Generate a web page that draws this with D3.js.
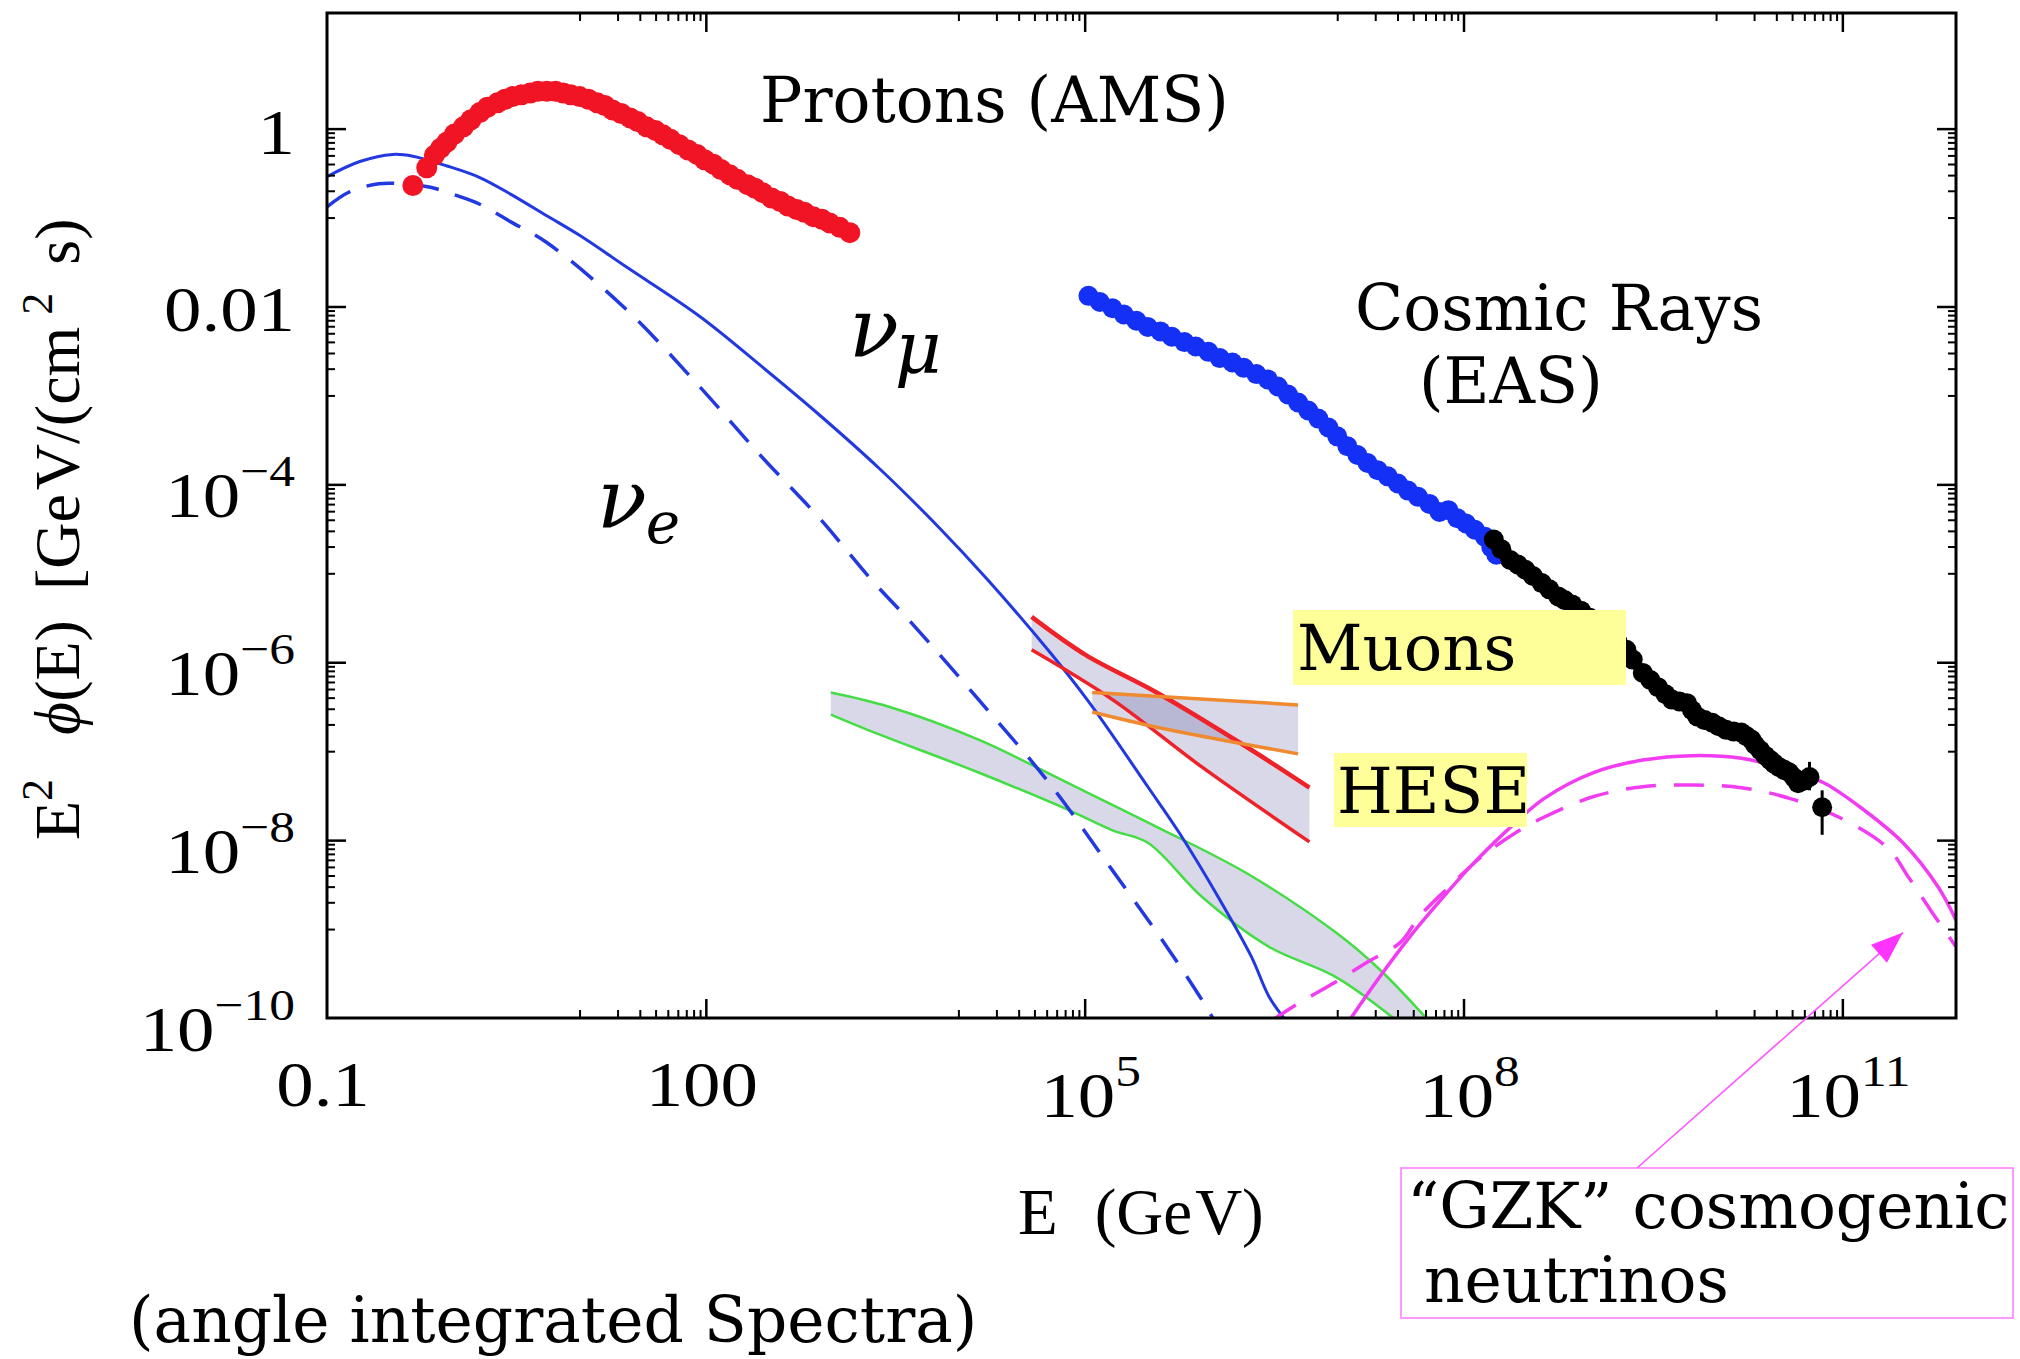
<!DOCTYPE html>
<html>
<head>
<meta charset="utf-8">
<script src="https://cdn.jsdelivr.net/npm/d3@7"></script>
<style>
  body { margin: 0; background: #fff; }
  svg { display: block; }
</style>
</head>
<body>
<div id="chart"></div>
<script>
// all series are [log10(E / GeV), log10(E^2 phi / GeV cm^-2 s^-1)]

// AMS protons
var protonsAMS = [
  [-0.32,-0.64],[-0.21,-0.44],[-0.15,-0.30],[-0.10,-0.22],[-0.05,-0.15],[0.01,-0.06],[0.08,0.02],
  [0.14,0.10],[0.21,0.18],[0.27,0.24],[0.35,0.29],[0.41,0.33],[0.47,0.36],[0.54,0.38],[0.61,0.40],
  [0.67,0.42],[0.74,0.42],[0.81,0.42],[0.87,0.40],[0.93,0.38],[1.00,0.36],[1.07,0.33],[1.14,0.29],
  [1.20,0.26],[1.26,0.21],[1.33,0.17],[1.40,0.12],[1.46,0.08],[1.53,0.02],[1.60,-0.02],[1.66,-0.07],
  [1.72,-0.12],[1.79,-0.18],[1.86,-0.24],[1.93,-0.29],[1.99,-0.35],[2.06,-0.40],[2.12,-0.46],
  [2.19,-0.52],[2.25,-0.57],[2.33,-0.63],[2.39,-0.67],[2.45,-0.72],[2.52,-0.78],[2.59,-0.82],
  [2.65,-0.87],[2.72,-0.91],[2.78,-0.94],[2.85,-0.99],[2.92,-1.02],[2.98,-1.06],[3.06,-1.11],[3.14,-1.17]
];

// air shower cosmic rays (blue part)
var cosmicRaysEAS = [
  [5.03,-1.88],[5.12,-1.95],[5.22,-2.02],[5.31,-2.09],[5.41,-2.16],[5.50,-2.23],[5.60,-2.28],
  [5.69,-2.34],[5.79,-2.40],[5.88,-2.45],[5.98,-2.51],[6.07,-2.58],[6.17,-2.63],[6.26,-2.69],
  [6.36,-2.76],[6.45,-2.82],[6.53,-2.90],[6.61,-2.99],[6.69,-3.08],[6.77,-3.17],[6.85,-3.26],
  [6.93,-3.36],[7.00,-3.46],[7.08,-3.57],[7.16,-3.67],[7.24,-3.76],[7.32,-3.84],[7.40,-3.91],
  [7.48,-3.99],[7.56,-4.07],[7.64,-4.14],[7.73,-4.22],[7.81,-4.31],[7.88,-4.29],[7.95,-4.38],
  [8.02,-4.44],[8.09,-4.51],[8.17,-4.59],[8.22,-4.71],[8.26,-4.79]
];

// highest energy cosmic rays (black part)
var cosmicRaysUHE = [
  [8.24,-4.62],[8.30,-4.73],[8.37,-4.85],[8.43,-4.90],[8.49,-4.96],[8.55,-5.03],[8.62,-5.11],
  [8.68,-5.18],[8.75,-5.26],[8.80,-5.30],[8.86,-5.35],[8.93,-5.42],[9.00,-5.50],[9.06,-5.57],
  [9.12,-5.64],[9.17,-5.70],[9.22,-5.77],[9.29,-5.86],[9.34,-5.97],[9.42,-6.12],[9.48,-6.20],
  [9.54,-6.28],[9.60,-6.36],[9.65,-6.42],[9.71,-6.44],[9.77,-6.46],[9.81,-6.54],[9.85,-6.61],
  [9.91,-6.65],[9.97,-6.68],[10.02,-6.72],[10.08,-6.76],[10.14,-6.78],[10.20,-6.79],[10.24,-6.83],
  [10.28,-6.87],[10.31,-6.93],[10.35,-6.99],[10.39,-7.05],[10.43,-7.10],[10.46,-7.14],[10.50,-7.18],
  [10.54,-7.21],[10.58,-7.24],[10.62,-7.30],[10.65,-7.36],[10.70,-7.33],[10.74,-7.29],[10.84,-7.63]
];
// [log10 E, upper, lower]
var uheErrors = [[10.74,-7.12,-7.44],[10.84,-7.44,-7.94]];

// atmospheric neutrinos
var numuFlux = [
  [-1.00,-0.54],[-0.74,-0.37],[-0.48,-0.29],[-0.32,-0.31],[-0.05,-0.42],[0.21,-0.55],[0.47,-0.75],
  [0.74,-0.98],[1.00,-1.20],[1.375,-1.56],[1.95,-2.11],[2.43,-2.66],[2.90,-3.22],[3.38,-3.83],
  [3.85,-4.49],[4.23,-5.07],[4.72,-5.88],[5.04,-6.46],[5.50,-7.40],[5.75,-7.92],[6.07,-8.67],
  [6.32,-9.31],[6.46,-9.76],[6.60,-10.04]
];
var nueFlux = [
  [-1.00,-0.88],[-0.82,-0.71],[-0.59,-0.62],[-0.40,-0.62],[-0.18,-0.66],[0.00,-0.74],[0.21,-0.85],
  [0.47,-1.06],[0.74,-1.28],[1.36,-2.02],[1.95,-2.90],[2.43,-3.67],[2.90,-4.38],[3.31,-5.07],
  [3.63,-5.56],[4.16,-6.42],[4.72,-7.36],[5.22,-8.34],[5.67,-9.24],[5.93,-9.80],[6.03,-10.04]
];

// prompt band (green)
var promptUpper = [[2.99,-6.34],[3.45,-6.50],[4.16,-6.87],[4.87,-7.36],[5.57,-7.85],[6.28,-8.37],[6.99,-9.04],[7.34,-9.46],[7.73,-10.04]];
var promptLower = [[2.99,-6.59],[3.28,-6.76],[4.16,-7.24],[4.87,-7.66],[5.22,-7.89],[5.50,-8.03],[5.93,-8.64],[6.46,-9.20],[6.99,-9.54],[7.48,-10.04]];

// IceCube astrophysical fits
var heseUpper = [[4.58,-5.49],[5.01,-5.92],[5.57,-6.34],[6.28,-6.95],[6.78,-7.41]];
var heseLower = [[4.58,-5.86],[5.22,-6.42],[5.93,-7.18],[6.78,-8.02]];
var muonUpper = [[5.06,-6.34],[6.69,-6.48]];
var muonLower = [[5.06,-6.56],[5.57,-6.73],[6.69,-7.03]];

// cosmogenic
var gzkSolid = [
  [7.09,-10.04],[7.32,-9.57],[7.59,-9.06],[7.87,-8.59],[8.06,-8.29],[8.33,-7.91],[8.64,-7.53],
  [9.03,-7.24],[9.42,-7.10],[9.81,-7.05],[10.20,-7.08],[10.58,-7.21],[10.86,-7.36],[11.17,-7.66],
  [11.48,-8.03],[11.76,-8.53],[11.90,-8.90]
];
var gzkDashed = [
  [6.47,-10.04],[6.70,-9.83],[6.97,-9.61],[7.24,-9.37],[7.50,-9.15],[7.65,-8.86],[7.86,-8.56],
  [8.14,-8.19],[8.41,-7.92],[8.64,-7.74],[9.03,-7.51],[9.42,-7.40],[9.81,-7.38],[10.20,-7.41],
  [10.58,-7.53],[10.97,-7.74],[11.36,-8.09],[11.53,-8.43],[11.71,-8.81],[11.90,-9.20]
];

// axis ticks
var xMajorTicks = [0.1, 100, 1e5, 1e8, 1e11];
var xTickLabels = [["0.1", null], ["100", null], ["10", "5"], ["10", "8"], ["10", "11"]];
var yMajorTicks = [1, 1e-2, 1e-4, 1e-6, 1e-8, 1e-10];
var yTickLabels = [["1", null], ["0.01", null], ["10", "\u22124"], ["10", "\u22126"], ["10", "\u22128"], ["10", "\u221210"]];

var width = 2020, height = 1359;
var plotL = 327, plotR = 1956, plotT = 13, plotB = 1018;

var svg = d3.select("#chart").append("svg")
  .attr("width", width)
  .attr("height", height);

var x = d3.scaleLog().domain([0.1, Math.pow(10, 11.9)]).range([plotL, plotR]);
var y = d3.scaleLog().domain([1e-10, Math.pow(10, 1.3)]).range([plotB, plotT]);

function px(d) { return x(Math.pow(10, d[0])); }
function py(d) { return y(Math.pow(10, d[1])); }

svg.append("clipPath").attr("id", "plotclip")
  .append("rect")
  .attr("x", plotL).attr("y", plotT)
  .attr("width", plotR - plotL).attr("height", plotB - plotT);

var plot = svg.append("g").attr("clip-path", "url(#plotclip)");

var line = d3.line().x(px).y(py).curve(d3.curveCatmullRom);

function bandPath(upper, lower) {
  var lo = lower.slice().reverse();
  return line(upper) + "L" + line(lo).slice(1) + "Z";
}

// shaded bands
[[promptUpper, promptLower], [heseUpper, heseLower], [muonUpper, muonLower]].forEach(function (b) {
  plot.append("path")
    .attr("d", bandPath(b[0], b[1]))
    .attr("fill", "#3c3c8c")
    .attr("fill-opacity", 0.2)
    .attr("stroke", "none");
});

function drawLine(data, color, w, dash) {
  plot.append("path")
    .datum(data)
    .attr("d", line)
    .attr("fill", "none")
    .attr("stroke", color)
    .attr("stroke-width", w)
    .attr("stroke-dasharray", dash || null);
}

drawLine(promptUpper, "#44dd44", 2.5);
drawLine(promptLower, "#44dd44", 2.5);
drawLine(nueFlux, "#2238e0", 3.5, "28,17");
drawLine(numuFlux, "#2238e0", 3);
drawLine(heseUpper, "#ee2228", 4.5);
drawLine(heseLower, "#ee2228", 3.5);
drawLine(muonUpper, "#f08a30", 3.5);
drawLine(muonLower, "#f08a30", 3.5);
drawLine(gzkDashed, "#f23cf2", 3.5, "30,18");
drawLine(gzkSolid, "#f23cf2", 3.5);

function drawDots(data, color, r) {
  plot.append("g").selectAll("circle")
    .data(data)
    .enter().append("circle")
    .attr("cx", px)
    .attr("cy", py)
    .attr("r", r)
    .attr("fill", color);
}

drawDots(protonsAMS, "#f01424", 10.5);
drawDots(cosmicRaysEAS, "#1530f5", 10);
drawDots(cosmicRaysUHE, "#000", 10);

plot.append("g").selectAll("line")
  .data(uheErrors)
  .enter().append("line")
  .attr("x1", px).attr("x2", px)
  .attr("y1", function (d) { return y(Math.pow(10, d[1])); })
  .attr("y2", function (d) { return y(Math.pow(10, d[2])); })
  .attr("stroke", "#000")
  .attr("stroke-width", 3);

// ticks on all four sides, pointing inward
var xMinor = [], yMinor = [];
xMajorTicks.forEach(function (v) { for (var k = 1; k <= 9; k++) { var t = k * v / 10; if (t > 0.1) xMinor.push(t); } });
yMajorTicks.forEach(function (v) { for (var k = 1; k <= 9; k++) { var t = k * v / 10; if (t > 1e-10) yMinor.push(t); } });

function tickLayer(axis, tx, ty, vals, size, sw) {
  var g = svg.append("g")
    .attr("transform", "translate(" + tx + "," + ty + ")")
    .call(axis.tickValues(vals).tickSize(-size).tickFormat(""));
  g.select(".domain").remove();
  g.selectAll(".tick line").attr("stroke", "#000").attr("stroke-width", sw);
}
tickLayer(d3.axisBottom(x), 0, plotB, xMajorTicks.filter(function (v) { return v > 0.1; }), 19, 2.5);
tickLayer(d3.axisBottom(x), 0, plotB, xMinor, 8, 2);
tickLayer(d3.axisTop(x), 0, plotT, xMajorTicks.filter(function (v) { return v > 0.1; }), 19, 2.5);
tickLayer(d3.axisTop(x), 0, plotT, xMinor, 8, 2);
tickLayer(d3.axisLeft(y), plotL, 0, yMajorTicks.filter(function (v) { return v > 1e-10; }), 19, 2.5);
tickLayer(d3.axisLeft(y), plotL, 0, yMinor, 8, 2);
tickLayer(d3.axisRight(y), plotR, 0, yMajorTicks.filter(function (v) { return v > 1e-10; }), 19, 2.5);
tickLayer(d3.axisRight(y), plotR, 0, yMinor, 8, 2);

svg.append("rect")
  .attr("x", plotL).attr("y", plotT)
  .attr("width", plotR - plotL).attr("height", plotB - plotT)
  .attr("fill", "none")
  .attr("stroke", "#000")
  .attr("stroke-width", 3);

// tick labels (the original type is a little wide, so stretch horizontally)
var tickFont = "'Liberation Serif', 'Times New Roman', serif";
var stretch = 1.17;
xMajorTicks.forEach(function (v, i) {
  var lab = xTickLabels[i];
  var t = svg.append("text")
    .attr("font-family", tickFont)
    .attr("font-size", 64)
    .attr("text-anchor", "middle")
    .attr("transform", "translate(" + (x(v) + (lab[1] ? 6 : -4)) + "," + (lab[1] ? 1117 : 1106) + ") scale(" + stretch + ",1)");
  t.append("tspan").text(lab[0]);
  if (lab[1]) t.append("tspan").attr("font-size", 44).attr("dy", -31).text(lab[1]);
});
yMajorTicks.forEach(function (v, i) {
  var lab = yTickLabels[i];
  var t = svg.append("text")
    .attr("font-family", tickFont)
    .attr("font-size", 64)
    .attr("text-anchor", "end")
    .attr("transform", "translate(295," + (y(v) + (lab[1] ? 33 : 25)) + ") scale(" + stretch + ",1)");
  t.append("tspan").text(lab[0]);
  if (lab[1]) t.append("tspan").attr("font-size", 44).attr("dy", -31).text(lab[1]);
});

// axis titles
var xl = svg.append("text")
  .attr("font-family", tickFont)
  .attr("font-size", 65)
  .attr("x", 1018).attr("y", 1234);
xl.append("tspan").text("E");
xl.append("tspan").attr("dx", 37).text("(Ge");
xl.append("tspan").attr("dx", 3).text("V)");

var yl = svg.append("text")
  .attr("font-family", tickFont)
  .attr("font-size", 64)
  .attr("transform", "translate(79,840) rotate(-90)");
yl.append("tspan").text("E");
yl.append("tspan").attr("font-size", 44).attr("dy", -27).text("2");
yl.append("tspan").attr("dy", 27).attr("dx", 44).attr("font-style", "italic").text("\u03d5");
yl.append("tspan").text("(E)");
yl.append("tspan").attr("dx", 30).text("[Ge");
yl.append("tspan").attr("dx", 4).text("V/(cm");
yl.append("tspan").attr("font-size", 44).attr("dy", -27).attr("dx", 12).text("2");
yl.append("tspan").attr("dy", 27).attr("dx", 28).text("s)");

// annotations
var noteFont = "'DejaVu Serif', serif";
function note(txt, tx, ty, size) {
  return svg.append("text")
    .attr("font-family", noteFont)
    .attr("font-size", size)
    .attr("x", tx).attr("y", ty)
    .text(txt);
}
note("Protons (AMS)", 760, 122, 63);
note("Cosmic Rays", 1355, 330, 63);
note("(EAS)", 1419, 403, 63);

var nm = svg.append("text").attr("font-family", noteFont).attr("font-style", "italic")
  .attr("font-size", 82).attr("x", 849).attr("y", 357);
nm.append("tspan").text("\u03bd");
nm.append("tspan").attr("font-size", 72).attr("dy", 16).attr("dx", -4).text("\u03bc");

var ne = svg.append("text").attr("font-family", noteFont).attr("font-style", "italic")
  .attr("font-size", 82).attr("x", 597).attr("y", 528);
ne.append("tspan").text("\u03bd");
ne.append("tspan").attr("font-size", 58).attr("dy", 15).attr("dx", -1).text("e");

svg.append("rect").attr("x", 1293).attr("y", 610).attr("width", 333).attr("height", 75).attr("fill", "#ffff99");
note("Muons", 1297, 670, 64);
svg.append("rect").attr("x", 1334).attr("y", 753).attr("width", 193).attr("height", 74).attr("fill", "#ffff99");
note("HESE", 1337, 813, 64);

// GZK callout
var tipX = x(Math.pow(10, 11.48)), tipY = y(Math.pow(10, -9.04));
var baseX = 1637, baseY = 1168;
svg.append("line")
  .attr("x1", baseX).attr("y1", baseY)
  .attr("x2", tipX).attr("y2", tipY)
  .attr("stroke", "#ff55ff")
  .attr("stroke-width", 1.6);
var ang = Math.atan2(tipY - baseY, tipX - baseX);
var hl = 32, hw = 12;
var bx = tipX - hl * Math.cos(ang), by = tipY - hl * Math.sin(ang);
svg.append("path")
  .attr("d", "M" + tipX + "," + tipY +
    "L" + (bx + hw * Math.sin(ang)) + "," + (by - hw * Math.cos(ang)) +
    "L" + (bx - hw * Math.sin(ang)) + "," + (by + hw * Math.cos(ang)) + "Z")
  .attr("fill", "#ff33ff");

svg.append("rect")
  .attr("x", 1401).attr("y", 1168).attr("width", 612).attr("height", 150)
  .attr("fill", "none").attr("stroke", "#ff80ff").attr("stroke-width", 1.6);
note("\u201cGZK\u201d cosmogenic", 1407, 1228, 63);
note("neutrinos", 1424, 1302, 63);

note("(angle integrated Spectra)", 129, 1342, 63);
</script>
</body>
</html>
